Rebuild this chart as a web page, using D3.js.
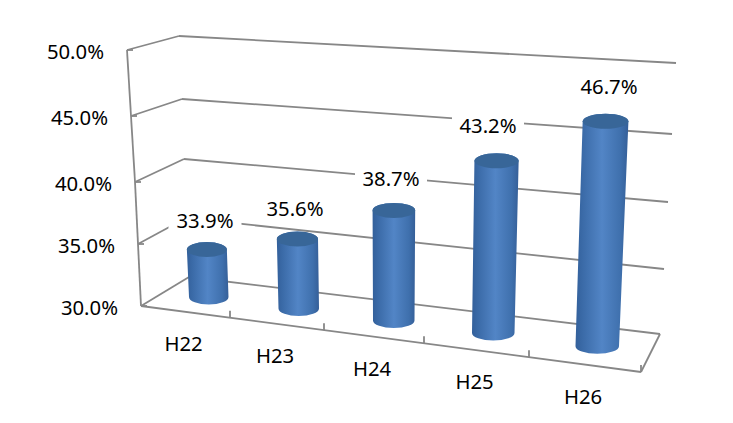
<!DOCTYPE html>
<html>
<head>
<meta charset="utf-8">
<script src="https://d3js.org/d3.v7.min.js"></script>
<style>
html,body{margin:0;padding:0;background:#fff;overflow:hidden}
svg{display:block}
text{font-family:"Noto Sans",sans-serif;font-size:20.3px;fill:#000}
</style>
</head>
<body>
<svg id="chart" width="733" height="423"></svg>
<script>
const categories = ["H22","H23","H24","H25","H26"];
const values = [33.9,35.6,38.7,43.2,46.7];
const valueLabels = ["33.9%","35.6%","38.7%","43.2%","46.7%"];
const tickValues = [30,35,40,45,50];
const tickLabels = ["30.0%","35.0%","40.0%","45.0%","50.0%"];

const svg = d3.select("#chart");

// Corner-post scales of the 3D box (value -> pixel)
const post = r => d3.scaleLinear().domain(tickValues).range(r);
const flX = post([141,138,135,131,127]), flY = post([306,244,182,116,50]);
const blX = post([189,186,184,182,179]), blY = post([277,218,159,99,36]);
const brX = post([660,664,668,672,676]), brY = post([334,269,202,134,63]);
const frX = post([641,644,646,648,650]), frY = post([372,306,238,167,92]);

// Category position along the floor (perspective-spaced)
const bandIdx = d3.range(categories.length + 1);
const frontU = d3.scaleLinear().domain(bandIdx).range([141,230,324,424,529,641].map(x => (x-141)/500));
const backU  = d3.scaleLinear().domain(bandIdx).range([189,275,366,461,559,660].map(x => (x-189)/471));

function project(pos, depth, v) {
  const uF = frontU(pos), uB = backU(pos);
  const fx = flX(v) + (frX(v)-flX(v))*uF, fy = flY(v) + (frY(v)-flY(v))*uF;
  const bx = blX(v) + (brX(v)-blX(v))*uB, by = blY(v) + (brY(v)-blY(v))*uB;
  return [fx + (bx-fx)*depth, fy + (by-fy)*depth];
}

const gridColor = "#878787";
const line = (a,b) => svg.append("line")
  .attr("x1",a[0]).attr("y1",a[1]).attr("x2",b[0]).attr("y2",b[1])
  .attr("stroke",gridColor).attr("stroke-width",1.8);

const nCat = categories.length;

// Walls and gridlines
tickValues.forEach(v => {
  line(project(0,0,v), project(0,1,v));
  line(project(0,1,v), project(nCat,1,v));
  const p = project(0,0,v);
  line(p,[p[0]+6,p[1]]);
});
line(project(0,0,30), project(0,0,35));
line(project(0,0,35), project(0,0,40));
line(project(0,0,40), project(0,0,45));
line(project(0,0,45), project(0,0,50));
// Floor
line(project(0,0,30), project(nCat,0,30));
line(project(nCat,0,30), project(nCat,1,30));
bandIdx.slice(1).forEach(i => {
  const p = project(i,0,30);
  line(p,[p[0],p[1]-7]);
});

// Value axis labels
svg.selectAll("text.yt").data(tickValues).join("text")
  .attr("class","yt")
  .attr("x",d => flX(d)-23)
  .attr("y",d => flY(d)+1)
  .attr("text-anchor","end")
  .attr("dominant-baseline","central")
  .text((d,i) => tickLabels[i]);

// Category labels
svg.selectAll("text.xt").data(categories).join("text")
  .attr("class","xt")
  .attr("x",(d,i) => project(i+.5,0,30)[0]-2)
  .attr("y",(d,i) => project(i+.5,0,30)[1]+31)
  .attr("text-anchor","middle")
  .attr("dominant-baseline","central")
  .text(d => d);

// Cylinders
const defs = svg.append("defs");
const g = defs.append("linearGradient").attr("id","cyl").attr("x1",0).attr("x2",1).attr("y1",0).attr("y2",0);
[[0,"#33609b"],[.14,"#3b6ba8"],[.5,"#5285c6"],[.85,"#3f70ad"],[1,"#355f98"]]
  .forEach(s => g.append("stop").attr("offset",s[0]).attr("stop-color",s[1]));

const rxScale = d3.scaleLinear().domain([0,nCat]).range([19.5,22]);
const ryBase = 7.5;

const cyl = svg.selectAll("g.cyl").data(values).join("g").attr("class","cyl");
cyl.each(function(v,i){
  const sel = d3.select(this);
  const b = project(i+.5,.5,30), t = project(i+.5,.5,v);
  const rb = rxScale(i+.5), rt = rb + 0.005*(b[1]-t[1]);
  sel.append("path")
    .attr("fill","url(#cyl)")
    .attr("d",`M${t[0]-rt},${t[1]} L${b[0]-rb},${b[1]} A${rb},${ryBase} 0 0 0 ${b[0]+rb},${b[1]} L${t[0]+rt},${t[1]} A${rt},${ryBase} 0 0 0 ${t[0]-rt},${t[1]}Z`);
  sel.append("ellipse").attr("cx",t[0]).attr("cy",t[1]).attr("rx",rt).attr("ry",ryBase)
    .attr("fill","#386698");
});

// Data labels with white background
const labelPos = [[205,220,73],[295,208,0],[391,178,72],[488,125,72],[609,86,0]];
categories.forEach((c,i) => {
  const [x,y,w] = labelPos[i];
  if (w) svg.append("rect").attr("x",x-w/2).attr("y",y-13).attr("width",w).attr("height",26).attr("fill","#fff");
  svg.append("text").attr("x",x).attr("y",y).attr("text-anchor","middle")
    .attr("dominant-baseline","central").text(valueLabels[i]);
});
</script>
</body>
</html>
